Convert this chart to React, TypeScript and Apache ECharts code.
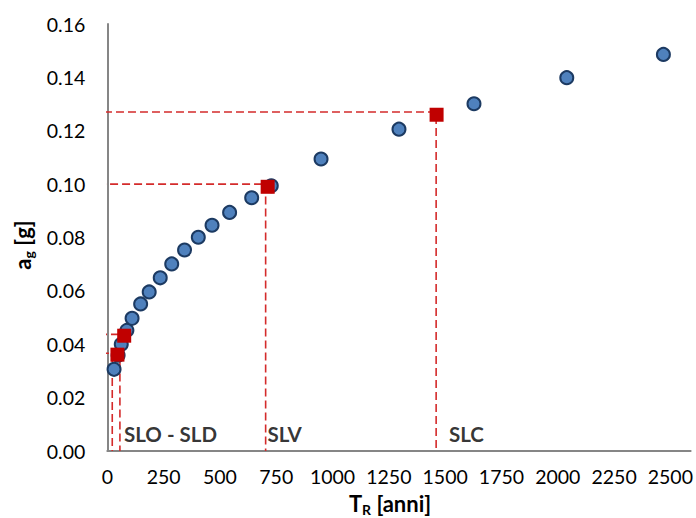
import { useEffect, useRef } from 'react';
import * as echarts from 'echarts';

// Hazard curve: PGA a_g versus return period T_R
const returnPeriods = [30, 48, 62, 87, 110, 148, 186, 235, 286, 343, 404, 465, 543, 641, 728, 949, 1295, 1628, 2040, 2469];
const pga = [0.0306, 0.0359, 0.04, 0.0452, 0.0497, 0.0551, 0.0596, 0.0649, 0.0701, 0.0753, 0.0801, 0.0846, 0.0894, 0.0949, 0.0994, 0.1094, 0.1206, 0.1301, 0.1399, 0.1486];

// Limit states (SLO, SLD, SLV, SLC)
const limitStateTR = [45, 75, 712, 1462];
const limitStateAg = [0.0361, 0.0432, 0.099, 0.126];

// Dashed reference lines for each limit state
const guideX = [22, 56, 703, 1460];
const guideY = [0.0366, 0.0437, 0.1, 0.127];
const guideStart = [-28, -37, -41, -68];

// Limit-state captions along the bottom
const captionText = ['SLO - SLD', 'SLV', 'SLC'];
const captionTR = [74, 711, 1517];
const captionAg = 0.0064;

const X_MIN = 0;
const X_MAX = 2590;
const X_STEP = 250;
const X_LAST_LABEL = 2500;
const Y_MIN = 0;
const Y_MAX = 0.16;
const Y_STEP = 0.02;

const FONT = 'Lato, "Noto Sans", sans-serif';

export default function App() {
  const ref = useRef<HTMLDivElement>(null);

  useEffect(() => {
    document.body.style.margin = '0';
    if (!ref.current) return;
    const chart = echarts.init(ref.current, undefined, { renderer: 'svg' });

    const guideSeries = guideX.map((gx, i) => ({
      type: 'line',
      data: [
        [guideStart[i], guideY[i]],
        [gx, guideY[i]],
        [gx, 0],
      ],
      showSymbol: false,
      symbol: 'none',
      clip: false,
      silent: true,
      z: 1,
      lineStyle: { color: '#D42B2B', width: 1.6, type: [8, 4] },
    }));

    const titleRich = {
      b: { fontFamily: FONT, fontWeight: 'bold', fontSize: 22, lineHeight: 26, fill: '#000' },
      s: { fontFamily: FONT, fontWeight: 'bold', fontSize: 14, lineHeight: 13, verticalAlign: 'bottom', fill: '#000' },
    };

    chart.setOption({
      animation: false,
      backgroundColor: '#ffffff',
      textStyle: { fontFamily: FONT },
      grid: { left: 107.3, top: 24, right: 3.3, bottom: 67, containLabel: false },
      xAxis: {
        type: 'value',
        min: X_MIN,
        max: X_MAX,
        interval: X_STEP,
        splitLine: { show: false },
        axisTick: { show: false },
        axisLine: { lineStyle: { color: '#868686', width: 2 } },
        axisLabel: {
          color: '#000',
          fontSize: 19.5,
          fontFamily: FONT,
          margin: 15,
          formatter: (v: number) => (v > X_LAST_LABEL ? '' : String(v)),
        },
      },
      yAxis: {
        type: 'value',
        min: Y_MIN,
        max: Y_MAX,
        interval: Y_STEP,
        splitLine: { show: false },
        axisTick: { show: false },
        axisLine: { show: true, lineStyle: { color: '#868686', width: 2 } },
        axisLabel: {
          color: '#000',
          fontSize: 19.5,
          fontFamily: FONT,
          margin: 22,
          formatter: (v: number) => v.toFixed(2),
        },
      },
      graphic: [
        {
          type: 'text',
          x: 390,
          y: 503,
          style: {
            text: '{b|T}{s|R}{b| [anni]}',
            textAlign: 'center',
            textVerticalAlign: 'middle',
            rich: titleRich,
          },
        },
        {
          type: 'text',
          x: 22,
          y: 245,
          rotation: Math.PI / 2,
          style: {
            text: '{b|a}{s|g}{b| [g]}',
            textAlign: 'center',
            textVerticalAlign: 'middle',
            rich: titleRich,
          },
        },
      ],
      series: [
        ...guideSeries,
        {
          type: 'scatter',
          data: returnPeriods.map((t, i) => [t, pga[i]]),
          symbol: 'circle',
          symbolSize: 13,
          z: 3,
          itemStyle: { color: '#4F81BD', borderColor: '#1C3A62', borderWidth: 2, opacity: 1 },
        },
        {
          type: 'scatter',
          data: limitStateTR.map((t, i) => [t, limitStateAg[i]]),
          symbol: 'rect',
          symbolSize: 14,
          z: 4,
          itemStyle: { color: '#C00000', opacity: 1 },
        },
        {
          type: 'scatter',
          data: captionTR.map((t, i) => ({ value: [t, captionAg], name: captionText[i] })),
          symbolSize: 0,
          silent: true,
          z: 5,
          label: {
            show: true,
            position: 'inside',
            align: 'left',
            verticalAlign: 'middle',
            formatter: (p: any) => p.name,
            fontFamily: FONT,
            fontWeight: 'bold',
            fontSize: 20.5,
            color: '#000',
          },
        },
      ],
    });

    return () => chart.dispose();
  }, []);

  return <div ref={ref} style={{ width: 696, height: 518 }} />;
}
